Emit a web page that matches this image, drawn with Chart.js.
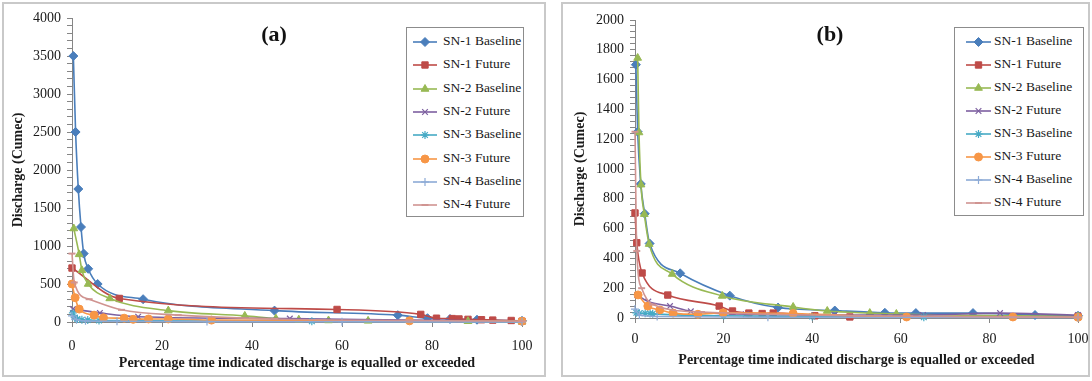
<!DOCTYPE html>
<html>
<head>
<meta charset="utf-8">
<script src="https://cdn.jsdelivr.net/npm/chart.js@4/dist/chart.umd.min.js"></script>
<style>
  body { margin: 0; background: #fff; font-family: "Liberation Serif", "Times New Roman", "DejaVu Serif", serif; }
  .panel { position: absolute; top: 2px; height: 375px; border: 2px solid #c9c9c9; box-sizing: border-box; background: #fff; }
  .panel canvas { position: absolute; left: 0; top: 0; }
  .tag { position: absolute; font-weight: bold; font-size: 22px; color: #111; transform: translate(-50%, -50%); white-space: nowrap; }
  .legend { position: absolute; border: 1px solid #8c8c8c; background: #fff; box-sizing: border-box; }
  .legend .row { position: absolute; left: 0; height: 20px; font-size: 13.5px; color: #1a1a1a; white-space: nowrap; }
  .legend .row canvas { position: absolute; top: 4px; }
  .legend .row span { position: absolute; top: 1px; }
</style>
</head>
<body>
<div class="panel" style="left:2px;width:544px"><canvas id="chartA" width="540" height="371"></canvas></div>
<div class="panel" style="left:561px;width:529px"><canvas id="chartB" width="525" height="371"></canvas></div>
<div class="tag" style="left:274px;top:34px">(a)</div>
<div class="tag" style="left:830px;top:34px">(b)</div>
<div class="legend" id="legendA" style="left:406px;top:27px;width:118px;height:190px"></div>
<div class="legend" id="legendB" style="left:954px;top:27px;width:130px;height:189px"></div>
<script>
const seriesNames = ['SN-1 Baseline', 'SN-1 Future', 'SN-2 Baseline', 'SN-2 Future', 'SN-3 Baseline', 'SN-3 Future', 'SN-4 Baseline', 'SN-4 Future'];
const seriesColors = ['#4a7ebb', '#be4b48', '#98b954', '#7d60a0', '#46aac5', '#f79646', '#8caad6', '#d09491'];
const markerStyles = ['rectRot', 'rect', 'triangle', 'crossRot', 'star', 'circle', 'cross', 'line'];
const markerRadius = [4.5, 4.5, 4.5, 4, 4, 4, 4, 3.5];
const markerBorder = [1, 1, 1, 1.2, 1.2, 1, 1.2, 2];

const xTicks = [0, 20, 40, 60, 80, 100];
const xTitle = 'Percentage time indicated discharge is equalled or exceeded';
const yTitle = 'Discharge (Cumec)';

// panel (a): [percent time, discharge]
const aMaxY = 4000, aMajorY = 500, aMinorY = 100;
const aSn1Baseline = [[0.3, 3500], [0.8, 2500], [1.4, 1750], [2, 1250], [2.6, 900], [3.6, 700], [5.7, 500], [15.8, 300], [45, 150], [72.4, 90], [79, 50], [84, 40], [90, 30], [100, 15]];
const aSn1Future = [[0, 710], [10.5, 310], [58.9, 165], [77.5, 100], [81, 50], [84.5, 45], [86, 40], [88, 35], [91, 30], [93.5, 25], [97.6, 20], [100, 10]];
const aSn2Baseline = [[0.4, 1230], [1.6, 890], [2.2, 680], [3.6, 500], [8.4, 310], [21.4, 150], [38.4, 80], [45.3, 45], [50.4, 30], [57, 20], [65.8, 15], [88, 10], [100, 5]];
const aSn2Future = [[0.2, 170], [6.2, 120], [14.7, 70], [48.4, 45], [75, 25], [100, 10]];
const aSn3Baseline = [[0.2, 120], [0.6, 60], [1.2, 40], [2.2, 30], [3.5, 25], [6, 20], [53.3, 10], [100, 5]];
const aSn3Future = [[0, 500], [0.7, 320], [1.6, 170], [4.9, 90], [7, 55], [11.6, 50], [13.6, 35], [17, 40], [21.4, 40], [31, 25], [75, 15], [100, 10]];
const aSn4Baseline = [[0, 80], [1, 30], [3, 15], [10, 10], [30, 5], [60, 3], [100, 2]];
const aSn4Future = [[0, 900], [0.5, 520], [3.8, 300], [11, 160], [23.6, 90], [45, 40], [75, 20], [100, 10]];

// panel (b)
const bMaxY = 2000, bMajorY = 200, bMinorY = 40;
const bSn1Baseline = [[0.2, 1700], [0.6, 1250], [1.3, 900], [2.2, 700], [3.3, 500], [10.2, 300], [21.4, 150], [32.3, 70], [45.1, 50], [56.4, 35], [63.4, 33], [76.3, 33], [90.3, 20], [100, 15]];
const bSn1Future = [[0, 705], [0.4, 505], [1.6, 302], [7.4, 154], [19, 80], [22, 47], [25.7, 33], [28.7, 30], [31.2, 33], [40.6, 15], [48.5, 7], [100, 10]];
const bSn2Baseline = [[0.6, 1745], [0.9, 1245], [1.35, 895], [2.1, 697], [3.2, 496], [8.4, 295], [19.7, 148], [35.7, 74], [43.4, 47], [53, 33], [59, 27], [100, 10]];
const bSn2Future = [[0.5, 155], [3, 110], [7.9, 80], [12.6, 45], [25, 25], [45, 20], [65, 20], [82.4, 33], [100, 20]];
const bSn3Baseline = [[0.3, 35], [1, 32], [2.3, 32], [3.4, 30], [4, 28], [20, 15], [40, 10], [65.2, 5], [100, 5]];
const bSn3Future = [[0.7, 155], [2.9, 80], [5.6, 54], [8.6, 33], [14.2, 25], [19.9, 35], [35.7, 30], [61.3, 7], [85.3, 7], [100, 5]];
const bSn4Baseline = [[0, 60], [1, 20], [5, 10], [30, 5], [100, 3]];
const bSn4Future = [[0, 1250], [0.4, 450], [1.5, 200], [4, 90], [15, 40], [50, 15], [100, 5]];

const axisColor = '#868686';
const textColor = '#1a1a1a';
const serif = "'Liberation Serif', 'Times New Roman', 'DejaVu Serif', serif";
const tickFont = { family: serif, size: 14 };
const titleFont = { family: serif, size: 14, weight: 'bold' };

function makeDatasets(series) {
    return series.map((points, i) => ({
        label: seriesNames[i],
        data: points.map(([x, y]) => ({ x, y })),
        showLine: true,
        borderColor: seriesColors[i],
        backgroundColor: seriesColors[i],
        borderWidth: 1.6,
        pointStyle: markerStyles[i],
        pointRadius: markerRadius[i],
        pointBorderWidth: markerBorder[i],
        pointBackgroundColor: seriesColors[i],
        pointBorderColor: seriesColors[i],
        cubicInterpolationMode: 'monotone',
        clip: 8,
        order: -i,
    }));
}

function buildChart(id, series, cfg) {
    return new Chart(document.getElementById(id), {
        type: 'scatter',
        data: { datasets: makeDatasets(series) },
        options: {
            responsive: false,
            animation: false,
            layout: { padding: { top: cfg.padTop, right: cfg.padRight, left: 0, bottom: 0 } },
            plugins: { legend: { display: false }, tooltip: { enabled: false } },
            scales: {
                x: {
                    type: 'linear', min: xTicks[0], max: xTicks[xTicks.length - 1],
                    afterBuildTicks: (scale) => { scale.ticks = xTicks.map((value) => ({ value })); },
                    ticks: { autoSkip: false, maxRotation: 0, padding: cfg.xTickPad, font: tickFont, color: textColor },
                    grid: { drawOnChartArea: false, tickLength: 5, color: axisColor },
                    border: { color: axisColor, width: 1 },
                    title: { display: true, text: xTitle, font: titleFont, color: textColor, padding: { top: 0, bottom: cfg.xTitlePad } },
                    afterFit: (scale) => { scale.height = cfg.xHeight; scale.paddingLeft = 0; scale.paddingRight = 0; },
                },
                y: {
                    type: 'linear', min: 0, max: cfg.maxY,
                    ticks: { stepSize: cfg.minorY, autoSkip: false, padding: 6, font: tickFont, color: textColor,
                        callback: (value) => (value % cfg.majorY === 0 ? value : '') },
                    grid: { drawOnChartArea: false, tickLength: 5, color: axisColor },
                    border: { color: axisColor, width: 1 },
                    title: { display: true, text: yTitle, font: titleFont, color: textColor, padding: { top: cfg.yTitlePad, bottom: 0 } },
                    afterFit: (scale) => { scale.width = cfg.yWidth; scale.paddingTop = 0; scale.paddingBottom = 0; },
                },
            },
        },
    });
}

function buildLegend(id, cfg) {
    const box = document.getElementById(id);
    seriesNames.forEach((name, i) => {
        const row = document.createElement('div');
        row.className = 'row';
        row.style.top = (cfg.firstRow + i * cfg.rowStep - 10) + 'px';
        row.style.width = '100%';
        const swatch = document.createElement('canvas');
        swatch.width = cfg.swatchW; swatch.height = 12;
        swatch.style.left = cfg.swatchX + 'px';
        const ctx = swatch.getContext('2d');
        ctx.strokeStyle = seriesColors[i];
        ctx.fillStyle = seriesColors[i];
        ctx.lineWidth = 1.6;
        ctx.beginPath(); ctx.moveTo(0, 6); ctx.lineTo(cfg.swatchW, 6); ctx.stroke();
        ctx.lineWidth = markerBorder[i];
        Chart.helpers.drawPoint(ctx, { pointStyle: markerStyles[i], radius: markerRadius[i], rotation: 0, borderWidth: markerBorder[i] }, cfg.swatchW / 2, 6);
        const label = document.createElement('span');
        label.textContent = name;
        label.style.left = cfg.textX + 'px';
        row.appendChild(swatch);
        row.appendChild(label);
        box.appendChild(row);
    });
}

buildChart('chartA', [aSn1Baseline, aSn1Future, aSn2Baseline, aSn2Future, aSn3Baseline, aSn3Future, aSn4Baseline, aSn4Future],
    { maxY: aMaxY, majorY: aMajorY, minorY: aMinorY, padTop: 14, padRight: 22, yWidth: 68, xHeight: 53, xTickPad: 11, xTitlePad: 3, yTitlePad: 6 });
buildChart('chartB', [bSn1Baseline, bSn1Future, bSn2Baseline, bSn2Future, bSn3Baseline, bSn3Future, bSn4Baseline, bSn4Future],
    { maxY: bMaxY, majorY: bMajorY, minorY: bMinorY, padTop: 16, padRight: 10, yWidth: 72, xHeight: 57, xTickPad: 8, xTitlePad: 6, yTitlePad: 9 });
buildLegend('legendA', { firstRow: 14, rowStep: 23.3, swatchX: 6, swatchW: 24, textX: 36 });
buildLegend('legendB', { firstRow: 13.7, rowStep: 23.1, swatchX: 11, swatchW: 25, textX: 39 });
</script>
</body>
</html>
